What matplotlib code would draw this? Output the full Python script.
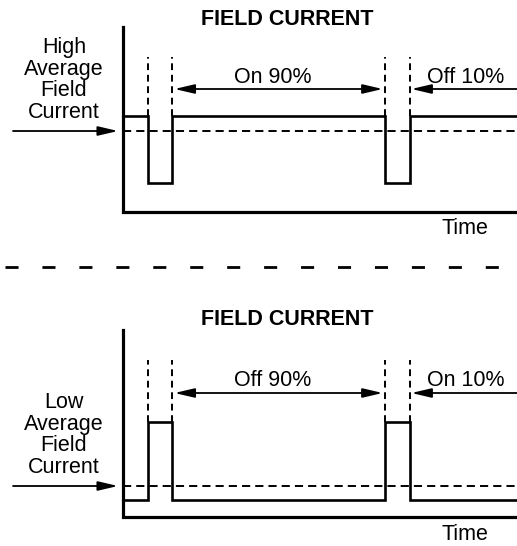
import matplotlib
matplotlib.use("Agg")
import matplotlib.pyplot as plt
from matplotlib.lines import Line2D
from matplotlib.patches import FancyArrowPatch

plt.rcParams['font.family'] = ['Liberation Sans', 'DejaVu Sans']

# ---------------- data ----------------
title = "FIELD CURRENT"
time_label = "Time"
# time axis (arbitrary units, one period = 100)
t_max = 166
pulse_edges = [0, 10.5, 20.6, 110.3, 120.9, 166]

# top panel : high average field current
top_levels = [96, 29, 96, 29, 96]
top_average = 81
top_axis_height = 185
top_marker_top = 155
top_arrow_level = 123
top_side_label = "High\nAverage\nField\nCurrent"
top_long_label = "On 90%"
top_short_label = "Off 10%"

# bottom panel : low average field current
bot_levels = [17, 95, 17, 95, 17]
bot_average = 31
bot_axis_height = 187
bot_marker_top = 157
bot_arrow_level = 124
bot_side_label = "Low\nAverage\nField\nCurrent"
bot_long_label = "Off 90%"
bot_short_label = "On 10%"

W, H = 517, 546
fig = plt.figure(figsize=(W / 100, H / 100), dpi=100)

HEAD = '-|>,head_length=0.6,head_width=0.14'
HEAD2 = '<|-|>,head_length=0.6,head_width=0.14'
MS = 20


def fx(x):
    return x / W


def fy(y):
    return 1 - y / H


def make_panel(y_base, y_top, levels, average, axis_h, marker_top, arrow_y,
               side_label, side_baseline, long_label, short_label,
               title_baseline, label_baseline, time_baseline, left_arrow_y,
               pulse_high):
    ax = fig.add_axes([fx(123), fy(y_base), fx(W) - fx(123),
                       (y_base - y_top) / H])
    ax.set_xlim(0, t_max)
    ax.set_ylim(0, y_base - y_top)
    ax.axis('off')
    # axes lines
    ax.plot([0, 0, t_max], [axis_h, 0, 0], color='black', lw=2.3,
            solid_joinstyle='miter', solid_capstyle='projecting', clip_on=False)
    # waveform
    ax.stairs(levels, pulse_edges, baseline=None, color='black', lw=1.9,
              clip_on=False)
    # average dashed
    ax.plot([0, t_max], [average, average], color='black', lw=1.4,
            ls=(0, (4.2, 2.6)), clip_on=False)
    # dashed markers
    for e in pulse_edges[1:-1]:
        ax.plot([e, e], [pulse_high, marker_top], color='black', lw=1.4,
                ls=(0, (3.5, 2.4)), clip_on=False)
    # arrows
    ap = dict(arrowstyle=HEAD2, color='black', lw=1.3, mutation_scale=MS,
              shrinkA=0, shrinkB=0)
    ax.annotate('', xy=(pulse_edges[2] + 1.1, arrow_y),
                xytext=(pulse_edges[3] - 0.9, arrow_y), arrowprops=ap)
    ap2 = dict(arrowstyle=HEAD, color='black', lw=1.3, mutation_scale=MS,
               shrinkA=0, shrinkB=0)
    ax.annotate('', xy=(pulse_edges[4] + 0.6, arrow_y),
                xytext=(t_max + 2, arrow_y), arrowprops=ap2,
                annotation_clip=False)
    # texts (figure pixel positions)
    fig.text(fx(287), fy(title_baseline), title, ha='center', va='baseline',
             fontsize=15.5, fontweight='bold')
    fig.text(fx(273), fy(label_baseline), long_label, ha='center',
             va='baseline', fontsize=15.5)
    fig.text(fx(466), fy(label_baseline), short_label, ha='center',
             va='baseline', fontsize=15.5)
    fig.text(fx(465), fy(time_baseline), time_label, ha='center',
             va='baseline', fontsize=15.5)
    fig.text(fx(64), fy(side_baseline), side_label, ha='center',
             va='baseline', fontsize=15.5, linespacing=1.04,
             multialignment='center')
    # left arrow
    fig.add_artist(FancyArrowPatch(
        (fx(13), fy(left_arrow_y)), (fx(118), fy(left_arrow_y)),
        transform=fig.transFigure, arrowstyle=HEAD, mutation_scale=MS,
        color='black', lw=1.3, shrinkA=0, shrinkB=0))
    return ax


make_panel(212, 0, top_levels, top_average, top_axis_height, top_marker_top,
           top_arrow_level, top_side_label, 118, top_long_label,
           top_short_label, 25, 83, 234, 131, top_levels[0])
make_panel(517, 277, bot_levels, bot_average, bot_axis_height, bot_marker_top,
           bot_arrow_level, bot_side_label, 473, bot_long_label,
           bot_short_label, 325, 386, 540, 486, bot_levels[1])

# separator
fig.add_artist(Line2D([fx(5), 1.0], [fy(267), fy(267)],
                      transform=fig.transFigure, color='black', lw=2.0,
                      ls=(0, (4.7, 8.6))))

fig.savefig('out.png', dpi=100)
